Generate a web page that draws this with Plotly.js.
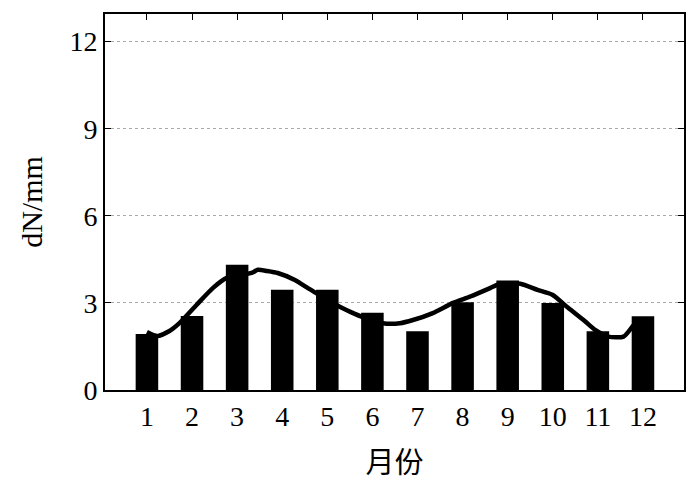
<!DOCTYPE html>
<html><head><meta charset="utf-8">
<script src="https://cdn.plot.ly/plotly-3.0.1.min.js"></script>
<style>body{margin:0;background:#fff}#chart{width:700px;height:486px}</style>
</head><body><div id="chart"></div>
<script>
const months = [1,2,3,4,5,6,7,8,9,10,11,12];
const monthLabels = ['1','2','3','4','5','6','7','8','9','10','11','12'];
const dN = [1.93,2.55,4.31,3.45,3.45,2.66,2.02,3.02,3.77,3.0,2.02,2.54];
const curveX = [1.0,1.23,1.5,1.72,2.1,2.46,2.77,3.32,3.46,3.66,3.9,4.28,4.57,4.79,5.32,5.61,5.83,6.23,6.61,6.9,7.34,7.79,8.17,8.61,8.83,9.28,9.66,9.99,10.34,10.72,10.94,11.23,11.57,11.79];
const curveY = [2.0,1.86,2.03,2.3,2.93,3.51,3.86,4.03,4.14,4.1,4.03,3.79,3.51,3.3,2.83,2.62,2.48,2.3,2.3,2.41,2.65,3.0,3.22,3.51,3.66,3.66,3.45,3.28,2.83,2.36,2.07,1.84,1.84,2.24];
const yTicks = [0,3,6,9,12];

const font = 'Liberation Serif, Times New Roman, serif';
const traces = [
  {type:'scatter', mode:'lines', x:curveX, y:curveY,
   line:{color:'#000', width:4.5, shape:'spline', smoothing:0.6}, hoverinfo:'skip'},
  {type:'bar', x:months, y:dN, width:0.5, marker:{color:'#000', line:{width:0}}}
];
const layout = {
  width:700, height:486,
  margin:{l:105, r:16, t:14, b:96},
  paper_bgcolor:'#fff', plot_bgcolor:'#fff',
  showlegend:false,
  font:{family:font, color:'#000', size:28},
  xaxis:{range:[0.07,12.91], tickvals:months, ticktext:monthLabels,
    ticks:'inside', ticklen:6, tickcolor:'#000', mirror:'ticks',
    showline:true, linecolor:'#000', linewidth:2, showgrid:false, zeroline:false,
    tickfont:{family:font, size:28},
    title:{text:'月份', font:{family:'Noto Sans CJK SC, sans-serif', size:29}, standoff:22}},
  yaxis:{range:[0,12.95], tickvals:yTicks, ticktext:yTicks.map(String),
    ticks:'inside', ticklen:6, tickcolor:'#000', mirror:'ticks',
    showline:true, linecolor:'#000', linewidth:2,
    showgrid:true, gridcolor:'#aaa', griddash:'dot', gridwidth:1, zeroline:false,
    tickfont:{family:font, size:28},
    title:{text:'dN/mm', font:{family:font, size:30}, standoff:18}}
};
Plotly.newPlot('chart', traces, layout, {displayModeBar:false, staticPlot:true});
</script></body></html>
